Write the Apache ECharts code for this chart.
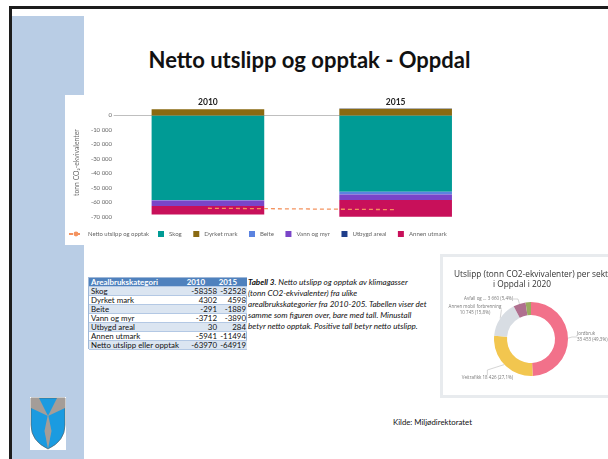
<!DOCTYPE html>
<html>
<head>
<meta charset="utf-8">
<script src="https://cdn.jsdelivr.net/npm/echarts@6/dist/echarts.min.js"></script>
<style>
  html, body { margin:0; padding:0; }
  body { width:608px; height:459px; overflow:hidden; background:#fff; position:relative; font-family: Lato, "Open Sans", sans-serif; }
  .abs { position:absolute; }
  #frame { left:9px; top:6px; width:640px; height:480px; border-left:3px solid #1c1c1c; border-top:3px solid #1c1c1c; }
  #band { left:12px; top:16px; width:72px; height:460px; background:#b9cde5; }
  #title { left:0; top:45px; width:619px; text-align:center; font-weight:700; font-size:22px; color:#111; line-height:30px; }
  #barWrap { left:65px; top:95px; width:387px; height:150px; background:#fff; overflow:hidden; }
  #bar { position:absolute; left:0; top:0; width:430px; height:150px; }
  #tbl { left:88px; top:277px; width:159px; height:72px; font-size:7.9px; color:#111; border:0.5px solid #9fb8d8; box-sizing:border-box; }
  .row { position:absolute; left:0; width:158px; height:9px; line-height:9px; white-space:nowrap; box-sizing:border-box; border-bottom:0.5px solid #b3c8e4; }
  .row.h { background:#4f81bd; color:#fff; font-weight:700; }
  .row.a { background:#dbe5f1; }
  .row span { position:absolute; top:0; }
  .c0 { left:2px; }
  .c1 { right:30px; text-align:right; }
  .c2 { right:1px; text-align:right; }
  .h .c1 { right:42px; }
  .h .c2 { right:10px; }
  #cap { left:248px; top:277px; font-size:8.1px; font-style:italic; line-height:11px; color:#111; white-space:nowrap; }
  #panel { left:440px; top:254px; width:200px; height:138px; border:3px solid #e8ebee; background:#fff; }
  #donut { position:absolute; left:0; top:0; width:200px; height:138px; }
  #pt1 { left:454px; top:268px; font-size:8.3px; color:#333; white-space:nowrap; font-family:"Open Sans", sans-serif; }
  #pt2 { left:422px; top:278px; width:200px; text-align:center; font-size:8.3px; color:#333; white-space:nowrap; font-family:"Open Sans", sans-serif; }
  #kilde { left:393px; top:417px; font-size:7.8px; color:#111; white-space:nowrap; }
  #logo { left:30px; top:397px; }
</style>
</head>
<body>
<div id="frame" class="abs"></div>
<div id="band" class="abs"></div>
<div id="title" class="abs">Netto utslipp og opptak - Oppdal</div>
<div id="barWrap" class="abs"><div id="bar"></div></div>
<div id="tbl" class="abs"></div>
<div id="cap" class="abs"><b>Tabell 3</b>. Netto utslipp og opptak av klimagasser<br>(tonn CO2-ekvivalenter) fra ulike<br>arealbrukskategorier fra 2010-205. Tabellen viser det<br>samme som figuren over, bare med tall. Minustall<br>betyr netto opptak. Positive tall betyr netto utslipp.</div>
<div id="panel" class="abs"><div id="donut"></div></div>
<div id="pt1" class="abs">Utslipp (tonn CO2-ekvivalenter) per sektor</div>
<div id="pt2" class="abs">i Oppdal i 2020</div>
<div id="kilde" class="abs">Kilde: Miljødirektoratet</div>
<svg id="logo" class="abs" width="36" height="53" viewBox="0 0 36 53">
  <rect x="0" y="0" width="36" height="53" fill="#fff"/>
  <path d="M1,1 H35 V28 Q35,44 18,52 Q1,44 1,28 Z" fill="#1b9be0" stroke="#555" stroke-width="0.6"/>
  <polygon points="1,1 9,1 18,19 1,11" fill="#a49d98"/>
  <polygon points="35,1 27,1 18,19 35,11" fill="#a49d98"/>
  <polygon points="18,17 21.5,34 18,52 14.5,34" fill="#a49d98"/>
</svg>
<script>
// ---- Data ----
const years = ['2010', '2015'];
const categoryNames = ['Skog', 'Dyrket mark', 'Beite', 'Vann og myr', 'Utbygd areal', 'Annen utmark'];
const skog = [-58358, -52528];
const dyrketMark = [4302, 4598];
const beite = [-291, -1889];
const vannOgMyr = [-3712, -3890];
const utbygdAreal = [30, 284];
const annenUtmark = [-5941, -11494];
const netto = [-63970, -64919];
const nettoName = 'Netto utslipp og opptak';
const tableNettoName = 'Netto utslipp eller opptak';
const tableHeader = 'Arealbrukskategori';

const sectorNames = ['Jordbruk', 'Veitrafikk', 'Annen mobil forbrenning', 'Avfall og ...', 'Oppvarming'];
const sectorValues = [33453, 18426, 10745, 3660, 1606];

// ---- Table ----
const seriesVals = [skog, dyrketMark, beite, vannOgMyr, utbygdAreal, annenUtmark];
const rows = [[tableHeader, years[0], years[1], 'h']];
categoryNames.forEach((n, i) => rows.push([n, seriesVals[i][0], seriesVals[i][1], i % 2 === 0 ? 'a' : '']));
rows.push([tableNettoName, netto[0], netto[1], 'a']);
document.getElementById('tbl').innerHTML = rows.map((r, i) =>
  '<div class="row ' + r[3] + '" style="top:' + (i * 9) + 'px"><span class="c0">' + r[0] + '</span><span class="c1">' + r[1] + '</span><span class="c2">' + r[2] + '</span></div>'
).join('');

// ---- Bar chart ----
const colors = ['#009b95', '#8a6a12', '#5b83e0', '#7a45c8', '#1f3d8a', '#c8105a'];
const fmt = v => {
  const s = String(Math.abs(v)).replace(/\B(?=(\d{3})+(?!\d))/g, ' ');
  return (v < 0 ? '-' : '') + s;
};
const bar = echarts.init(document.getElementById('bar'));
const barSeries = categoryNames.map((n, i) => ({
  name: n, type: 'bar', stack: 'a', data: seriesVals[i], barWidth: '60%',
  itemStyle: { color: colors[i] }, emphasis: { disabled: true }
}));
barSeries.push({
  name: nettoName, type: 'line', data: netto, symbol: 'none', z: 5,
  lineStyle: { color: '#f4935f', width: 1.3, type: [4, 3] }, itemStyle: { color: '#f4935f' }
});
bar.setOption({
  animation: false,
  textStyle: { fontFamily: 'Lato' },
  grid: { left: 39, right: 5.5, top: 13.25, bottom: 28 },
  xAxis: {
    type: 'category', data: years, position: 'top',
    axisLine: { onZero: true, lineStyle: { color: '#bfbfbf', width: 1 } },
    axisTick: { show: false },
    axisLabel: { margin: 1, fontSize: 8.5, fontWeight: 'bold', color: '#222' }
  },
  yAxis: {
    type: 'value', min: -70000, max: 5000, interval: 10000,
    name: 'tonn CO₂-ekvivalenter', nameLocation: 'middle', nameGap: 29,
    nameTextStyle: { fontSize: 6.8, color: '#666' },
    axisLine: { show: false }, axisTick: { show: false }, splitLine: { show: false },
    axisLabel: { margin: 2, fontSize: 6, color: '#666', formatter: v => (v > 0 ? '' : fmt(v)) }
  },
  legend: [
    { data: [nettoName], left: 3, top: 136, padding: 0, itemWidth: 14, itemHeight: 6, textStyle: { fontSize: 5.9, color: '#666' } },
    { data: categoryNames, left: 93, top: 136, padding: 0, itemWidth: 6, itemHeight: 6, itemGap: 11.5, icon: 'rect', textStyle: { fontSize: 6.1, color: '#666' } }
  ],
  series: barSeries
});

// ---- Donut ----
// chart origin at page (443, 257)
const labelSpots = [
  { x: 134, y: 74, align: 'left', verticalAlign: 'top' },
  { x: 70, y: 121, align: 'right', verticalAlign: 'middle' },
  { x: 32, y: 52.5, align: 'center', verticalAlign: 'middle' },
  { x: 70, y: 42, align: 'right', verticalAlign: 'middle' }
];
const sectorColors = ['#f2718a', '#f2c64f', '#d8dde3', '#b0708f', '#9aab5f'];
const donut = echarts.init(document.getElementById('donut'));
donut.setOption({
  animation: false,
  textStyle: { fontFamily: 'Open Sans' },
  series: [{
    type: 'pie', center: [88, 82], radius: [24, 37], startAngle: 90,
    avoidLabelOverlap: false,
    label: {
      fontSize: 4.5, color: '#777', lineHeight: 6,
      formatter: p => p.name + (p.dataIndex === 0 || p.dataIndex === 2 ? '\n' : ' ') + fmt(p.value) + ' (' + p.percent.toFixed(1).replace('.', ',') + '%)'
    },
    labelLine: { length: 4, length2: 5, lineStyle: { color: '#aaa', width: 0.5 } },
    labelLayout: p => labelSpots[p.dataIndex] || {},
    data: sectorNames.map((n, i) => ({
      name: n, value: sectorValues[i], itemStyle: { color: sectorColors[i] },
      label: i === 4 ? { show: false } : (i === 2 ? { align: 'center' } : (i === 0 ? { align: 'left' } : undefined)),
      labelLine: i === 4 ? { show: false } : undefined
    }))
  }]
});
</script>
</body>
</html>
